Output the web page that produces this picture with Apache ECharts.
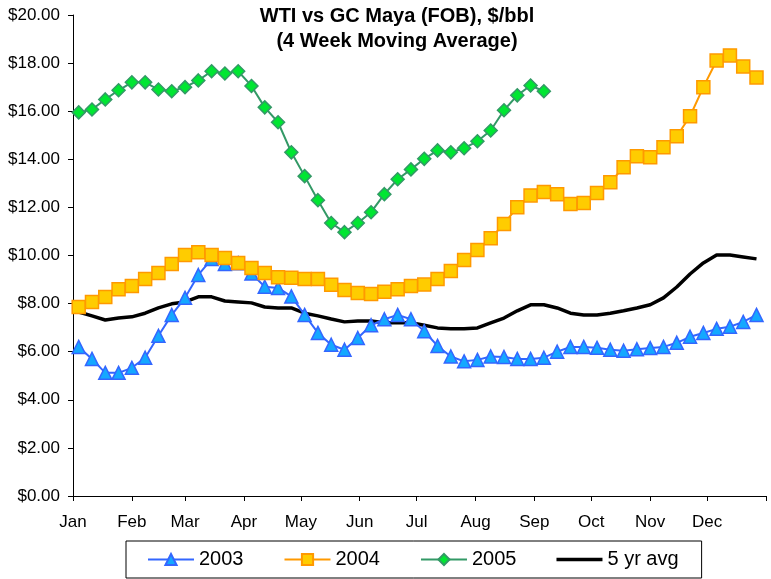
<!DOCTYPE html>
<html>
<head>
<meta charset="utf-8">
<title>WTI vs GC Maya</title>
<script src="https://cdn.jsdelivr.net/npm/echarts@6/dist/echarts.min.js"></script>
<style>
  html, body { margin: 0; padding: 0; background: #fff; }
  #chart { width: 771px; height: 579px; }
</style>
</head>
<body>
<div id="chart"></div>
<script>
// x axis: day of year, one point per week
var weekDays = [3, 10, 17, 24, 31, 38, 45, 52, 59, 66, 73, 80, 87, 94, 101, 108, 115, 122, 129, 136,
  143, 150, 157, 164, 171, 178, 185, 192, 199, 206, 213, 220, 227, 234, 241, 248, 255, 262, 269, 276,
  283, 290, 297, 304, 311, 318, 325, 332, 339, 346, 353, 360];
var monthDays = [0, 31, 59, 90, 120, 151, 181, 212, 243, 273, 304, 334, 365];
var monthNames = ['Jan', 'Feb', 'Mar', 'Apr', 'May', 'Jun', 'Jul', 'Aug', 'Sep', 'Oct', 'Nov', 'Dec'];

// $/bbl, 4 week moving average
var y2003 = [6.20, 5.70, 5.12, 5.12, 5.33, 5.75, 6.66, 7.53, 8.24, 9.19, 9.85, 9.65, 9.68, 9.25, 8.70,
  8.65, 8.30, 7.53, 6.78, 6.29, 6.08, 6.57, 7.10, 7.35, 7.53, 7.35, 6.85, 6.24, 5.80, 5.60, 5.66, 5.80,
  5.78, 5.70, 5.70, 5.75, 6.00, 6.20, 6.20, 6.16, 6.08, 6.04, 6.10, 6.15, 6.20, 6.37, 6.62, 6.78, 6.95,
  7.04, 7.24, 7.53];
var y2004 = [7.86, 8.07, 8.27, 8.60, 8.73, 9.02, 9.27, 9.65, 10.02, 10.14, 10.02, 9.90, 9.69, 9.48, 9.27,
  9.10, 9.07, 9.02, 9.02, 8.78, 8.57, 8.44, 8.40, 8.49, 8.60, 8.73, 8.79, 9.02, 9.36, 9.81, 10.23, 10.72,
  11.31, 12.01, 12.50, 12.64, 12.55, 12.14, 12.18, 12.60, 13.05, 13.67, 14.13, 14.09, 14.50, 14.96, 15.79,
  17.00, 18.11, 18.32, 17.86, 17.40];
var y2005 = [15.95, 16.07, 16.49, 16.87, 17.20, 17.20, 16.90, 16.83, 17.00, 17.28, 17.66, 17.57, 17.66,
  17.05, 16.16, 15.54, 14.29, 13.30, 12.30, 11.35, 10.97, 11.35, 11.80, 12.55, 13.17, 13.58, 14.02, 14.37,
  14.29, 14.46, 14.75, 15.20, 16.04, 16.66, 17.07, 16.83];
var avg5 = [7.65, 7.49, 7.32, 7.40, 7.45, 7.60, 7.82, 7.99, 8.07, 8.28, 8.28, 8.11, 8.07, 8.03, 7.86, 7.82,
  7.82, 7.60, 7.49, 7.36, 7.24, 7.28, 7.28, 7.20, 7.20, 7.20, 7.10, 6.99, 6.95, 6.95, 6.99, 7.20, 7.40,
  7.70, 7.95, 7.95, 7.82, 7.60, 7.53, 7.53, 7.60, 7.70, 7.82, 7.95, 8.24, 8.69, 9.23, 9.69, 10.02, 10.02,
  9.94, 9.86];

function pairs(vals) {
  return vals.map(function (v, i) { return [weekDays[i], v]; });
}

var font = "'Liberation Sans', Arial, sans-serif";
var chart = echarts.init(document.getElementById('chart'));

chart.setOption({
  animation: false,
  backgroundColor: '#fff',
  textStyle: { fontFamily: font },
  title: {
    text: 'WTI vs GC Maya (FOB), $/bbl\n(4 Week Moving Average)',
    left: 397,
    top: 4,
    padding: 0,
    textAlign: 'center',
    textStyle: { fontFamily: font, fontSize: 20, fontWeight: 'bold', color: '#000', lineHeight: 25 }
  },
  grid: { left: 73, right: 5, top: 15, bottom: 83, outerBoundsMode: 'none' },
  legend: {
    left: 126,
    top: 541,
    padding: [8, 23, 8, 21],
    borderColor: '#000',
    borderWidth: 1,
    backgroundColor: '#fff',
    itemWidth: 46,
    itemHeight: 14,
    itemGap: 40,
    textStyle: { fontFamily: font, fontSize: 20, color: '#000', lineHeight: 21 },
    data: ['2003', '2004', '2005', { name: '5 yr avg', icon: 'path://M0,0L46,0L46,3.5L0,3.5Z' }]
  },
  xAxis: {
    type: 'value',
    min: 0,
    max: 365,
    splitLine: { show: false },
    axisLine: { lineStyle: { color: '#000', width: 1 } },
    axisTick: { show: true, length: 5, customValues: monthDays, lineStyle: { color: '#000' } },
    axisLabel: {
      customValues: monthDays.slice(0, 12),
      margin: 18,
      fontSize: 17,
      color: '#000',
      fontFamily: font,
      formatter: function (v) { return monthNames[monthDays.indexOf(v)] || ''; }
    }
  },
  yAxis: {
    type: 'value',
    min: 0,
    max: 20,
    interval: 2,
    splitLine: { show: false },
    axisLine: { show: true, lineStyle: { color: '#000', width: 1 } },
    axisTick: { show: true, length: 5, lineStyle: { color: '#000' } },
    axisLabel: {
      margin: 13,
      fontSize: 17,
      color: '#000',
      fontFamily: font,
      formatter: function (v) { return '$' + v.toFixed(2); }
    }
  },
  series: [
    {
      name: '5 yr avg',
      type: 'line',
      data: pairs(avg5),
      symbol: 'none',
      lineStyle: { color: '#000', width: 3.5 },
      itemStyle: { color: '#000' },
      z: 1
    },
    {
      name: '2003',
      type: 'line',
      data: pairs(y2003),
      symbol: 'triangle',
      symbolSize: 13,
      lineStyle: { color: '#3366FF', width: 2 },
      itemStyle: { color: '#14A8FF', borderColor: '#3366FF', borderWidth: 1.5 },
      z: 2
    },
    {
      name: '2004',
      type: 'line',
      data: pairs(y2004),
      symbol: 'rect',
      symbolSize: 13,
      lineStyle: { color: '#FF9900', width: 2 },
      itemStyle: { color: '#FFCC00', borderColor: '#FF9900', borderWidth: 1.5 },
      z: 3
    },
    {
      name: '2005',
      type: 'line',
      data: pairs(y2005),
      symbol: 'diamond',
      symbolSize: 13,
      lineStyle: { color: '#339966', width: 2 },
      itemStyle: { color: '#00E632', borderColor: '#339966', borderWidth: 1.5 },
      z: 4
    }
  ]
});
</script>
</body>
</html>
